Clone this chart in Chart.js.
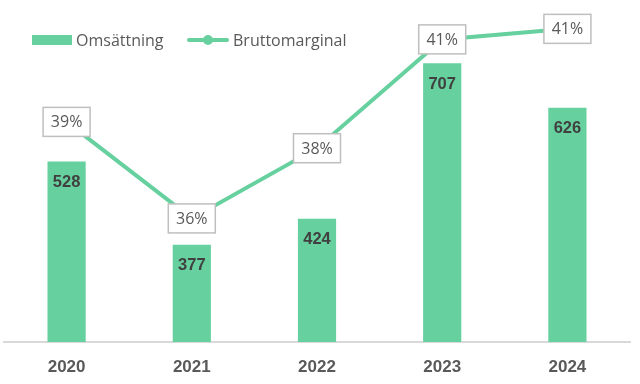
<!DOCTYPE html>
<html>
<head>
<meta charset="utf-8">
<script src="https://cdn.jsdelivr.net/npm/chart.js@4"></script>
<style>
	body { margin: 0; background: #fff; }
	#wrap { position: relative; width: 640px; height: 384px; }
	#legend { position: absolute; left: 32px; top: 29px; font-family: "Open Sans", sans-serif; font-size: 16px; color: #595959; }
	.item { position: absolute; top: 0; white-space: nowrap; line-height: 22px; }
	.swatch { position: absolute; top: 6px; width: 40px; height: 10px; background: #66D19E; }
	.lline { position: absolute; top: 9px; width: 42px; height: 4px; background: #66D19E; border-radius: 2px; }
	.ldot { position: absolute; top: 6px; left: 16px; width: 10px; height: 10px; border-radius: 50%; background: #66D19E; }
</style>
</head>
<body>
<div id="wrap">
	<canvas id="mycanvas" width="640" height="384"></canvas>
	<div id="legend">
		<div class="item" style="left:0"><span class="swatch" style="left:0"></span><span style="position:absolute;left:44px">Omsättning</span></div>
		<div class="item" style="left:155px"><span class="lline" style="left:0"></span><span class="ldot"></span><span style="position:absolute;left:46px">Bruttomarginal</span></div>
	</div>
</div>
<script>
	var years = ['2020', '2021', '2022', '2023', '2024'];
	var omsattning = [528, 377, 424, 707, 626];
	var bruttomarginal = [38.55, 35.8, 37.8, 40.9, 41.2];

	var green = '#66D19E';

	// value labels: bold numbers inside bars, boxed percentages on the line
	var labelPlugin = {
		id: 'labels',
		afterDatasetsDraw: function(chart) {
			var ctx = chart.ctx;
			ctx.save();
			chart.getDatasetMeta(1).data.forEach(function(bar, i) {
				ctx.font = 'bold 16.5px "Liberation Sans", Arial, sans-serif';
				ctx.fillStyle = '#404040';
				ctx.textAlign = 'center';
				ctx.textBaseline = 'middle';
				ctx.fillText(omsattning[i], bar.x, bar.y + 21);
			});
			chart.getDatasetMeta(0).data.forEach(function(pt, i) {
				var w = 47, h = 29;
				ctx.fillStyle = '#fff';
				ctx.fillRect(pt.x - w / 2, pt.y - h / 2, w, h);
				ctx.strokeStyle = '#bfbfbf';
				ctx.lineWidth = 1.5;
				ctx.strokeRect(pt.x - w / 2, pt.y - h / 2, w, h);
				ctx.font = '16px "Open Sans", sans-serif';
				ctx.fillStyle = '#595959';
				ctx.textAlign = 'center';
				ctx.textBaseline = 'middle';
				ctx.fillText(Math.round(bruttomarginal[i]) + '%', pt.x, pt.y + 1);
			});
			ctx.restore();
		}
	};

	var ctx = document.getElementById('mycanvas');
	var chart = new Chart(ctx, {
		type: 'bar',
		data: {
			labels: years,
			datasets: [
				{
					type: 'line',
					label: 'Bruttomarginal',
					data: bruttomarginal,
					yAxisID: 'y2',
					borderColor: green,
					backgroundColor: green,
					borderWidth: 4,
					pointRadius: 0,
					tension: 0,
					order: 1
				},
				{
					label: 'Omsättning',
					data: omsattning,
					yAxisID: 'y',
					backgroundColor: green,
					categoryPercentage: 1,
					barPercentage: 0.305,
					order: 2
				}
			]
		},
		options: {
			responsive: false,
			animation: false,
			layout: { padding: { top: 12, left: 4, right: 10, bottom: 0 } },
			plugins: {
				legend: { display: false },
				tooltip: { enabled: false }
			},
			scales: {
				x: {
					grid: { display: false, drawTicks: false },
					border: { display: true, color: '#d9d9d9', width: 2 },
					afterFit: function(scale) { scale.height = 42; },
					ticks: {
						padding: 15,
						color: '#595959',
						font: { family: '"Liberation Sans", Arial, sans-serif', size: 17, weight: 'bold' }
					}
				},
				y: { display: false, min: 200, max: 800 },
				y2: { display: false, min: 32.28, max: 41.68 }
			}
		},
		plugins: [labelPlugin]
	});
</script>
</body>
</html>
